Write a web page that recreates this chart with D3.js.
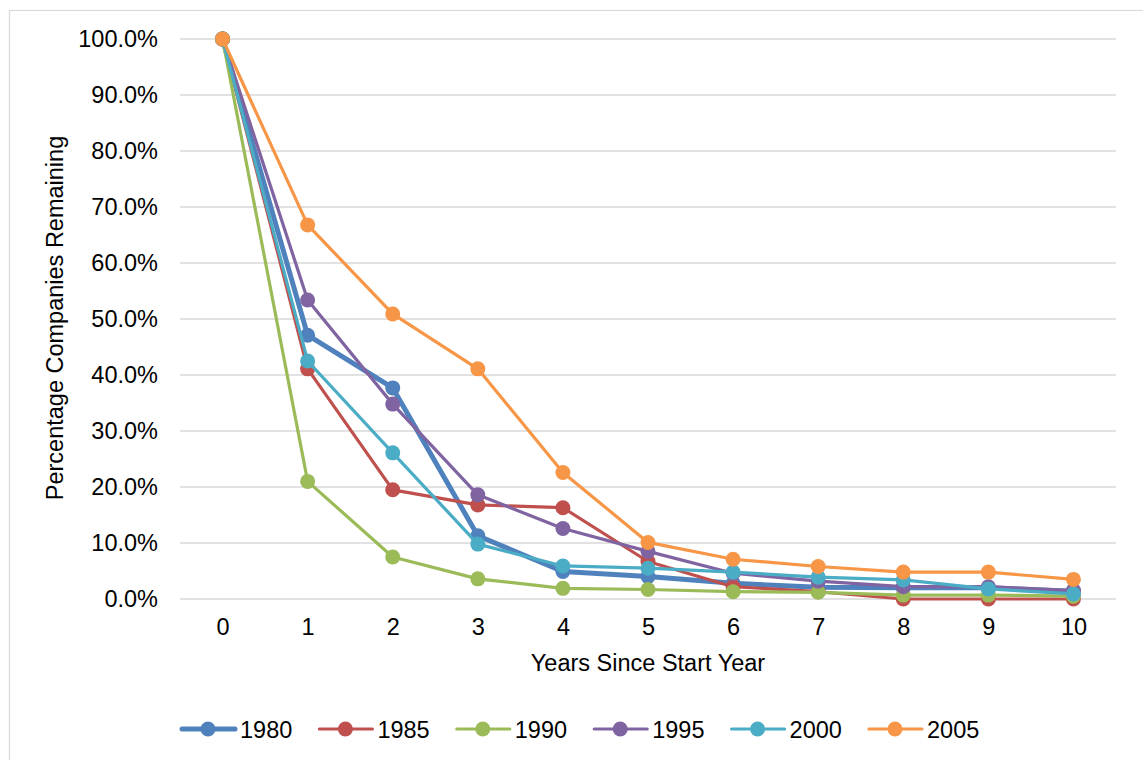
<!DOCTYPE html>
<html>
<head>
<meta charset="utf-8">
<script src="https://cdn.jsdelivr.net/npm/d3@7"></script>
<style>
  html, body { margin: 0; padding: 0; background: #fff; }
  svg { display: block; font-family: "Liberation Sans", Arial, sans-serif; }
</style>
</head>
<body>
<svg id="chart" width="1143" height="760"></svg>
<script>
// Years since start year (category axis)
const years = [0, 1, 2, 3, 4, 5, 6, 7, 8, 9, 10];

// Share of companies remaining, per start-year cohort (fractions)
const cohort1980 = [1.000, 0.471, 0.377, 0.113, 0.049, 0.040, 0.028, 0.021, 0.020, 0.020, 0.014];
const cohort1985 = [1.000, 0.411, 0.195, 0.168, 0.163, 0.067, 0.022, 0.013, 0.000, 0.000, 0.000];
const cohort1990 = [1.000, 0.210, 0.075, 0.036, 0.019, 0.017, 0.013, 0.012, 0.007, 0.007, 0.005];
const cohort1995 = [1.000, 0.534, 0.348, 0.186, 0.126, 0.085, 0.046, 0.032, 0.022, 0.022, 0.015];
const cohort2000 = [1.000, 0.425, 0.261, 0.098, 0.059, 0.055, 0.048, 0.039, 0.034, 0.018, 0.009];
const cohort2005 = [1.000, 0.668, 0.509, 0.411, 0.226, 0.101, 0.071, 0.058, 0.048, 0.048, 0.035];

const seriesNames = ["1980", "1985", "1990", "1995", "2000", "2005"];
const seriesValues = [cohort1980, cohort1985, cohort1990, cohort1995, cohort2000, cohort2005];
const seriesColors = ["#4F81BD", "#C0504D", "#9BBB59", "#8064A2", "#4BACC6", "#F79646"];
const seriesWidths = [5, 3.2, 3.2, 3.2, 3.2, 3.2];

const yTicks = [0, 0.1, 0.2, 0.3, 0.4, 0.5, 0.6, 0.7, 0.8, 0.9, 1.0];

const FONT = 23.5;
const svg = d3.select("#chart");

// Chart frame
svg.append("rect")
  .attr("x", 9.5).attr("y", 10.5)
  .attr("width", 1160).attr("height", 780)
  .attr("fill", "#fff").attr("stroke", "#d9d9d9").attr("stroke-width", 1.2);

const plot = { left: 180, right: 1116, top: 39, bottom: 599 };

const x = d3.scalePoint()
  .domain(years)
  .range([plot.left, plot.right])
  .padding(0.5);

const y = d3.scaleLinear()
  .domain([0, 1])
  .range([plot.bottom, plot.top]);

const fmtPct = d3.format(".1%");

// Horizontal gridlines
svg.append("g")
  .selectAll("line")
  .data(yTicks)
  .join("line")
  .attr("x1", plot.left).attr("x2", plot.right)
  .attr("y1", d => y(d)).attr("y2", d => y(d))
  .attr("stroke", "#d9d9d9").attr("stroke-width", 1.5);

// Y axis labels
const yAxis = d3.axisLeft(y).tickValues(yTicks).tickFormat(fmtPct).tickSize(0).tickPadding(22);
const gy = svg.append("g").attr("transform", `translate(${plot.left},0)`).call(yAxis);
gy.select(".domain").remove();
gy.selectAll("text").attr("font-size", FONT).attr("fill", "#000")
  .attr("font-family", "Liberation Sans, Arial, sans-serif");

// X axis labels
const xAxis = d3.axisBottom(x).tickSize(0).tickPadding(19);
const gx = svg.append("g").attr("transform", `translate(0,${plot.bottom})`).call(xAxis);
gx.select(".domain").remove();
gx.selectAll("text").attr("font-size", FONT).attr("fill", "#000")
  .attr("font-family", "Liberation Sans, Arial, sans-serif");

// Axis titles
svg.append("text")
  .attr("x", 648).attr("y", 671)
  .attr("text-anchor", "middle").attr("font-size", FONT).attr("fill", "#000")
  .text("Years Since Start Year");

svg.append("text")
  .attr("transform", "translate(63,318) rotate(-90)")
  .attr("text-anchor", "middle").attr("font-size", FONT).attr("fill", "#000")
  .text("Percentage Companies Remaining");

// Series lines and markers
const line = d3.line()
  .x((d, i) => x(years[i]))
  .y(d => y(d));

const seriesG = svg.append("g");
seriesValues.forEach((vals, si) => {
  const g = seriesG.append("g");
  g.append("path")
    .datum(vals)
    .attr("d", line)
    .attr("fill", "none")
    .attr("stroke", seriesColors[si])
    .attr("stroke-width", seriesWidths[si])
    .attr("stroke-linejoin", "round");
  g.selectAll("circle")
    .data(vals)
    .join("circle")
    .attr("cx", (d, i) => x(years[i]))
    .attr("cy", d => y(d))
    .attr("r", 7.5)
    .attr("fill", seriesColors[si]);
});

// Legend
const legend = svg.append("g").attr("transform", "translate(208,729)");
const legendStep = 137.4;
seriesNames.forEach((name, si) => {
  const g = legend.append("g").attr("transform", `translate(${si * legendStep},0)`);
  g.append("line")
    .attr("x1", -26).attr("x2", 27).attr("y1", 0).attr("y2", 0)
    .attr("stroke", seriesColors[si]).attr("stroke-width", seriesWidths[si])
    .attr("stroke-linecap", "round");
  g.append("circle").attr("r", 7.5).attr("fill", seriesColors[si]);
  g.append("text")
    .attr("x", 32).attr("y", 8.5)
    .attr("font-size", FONT).attr("fill", "#000")
    .text(name);
});
</script>
</body>
</html>
